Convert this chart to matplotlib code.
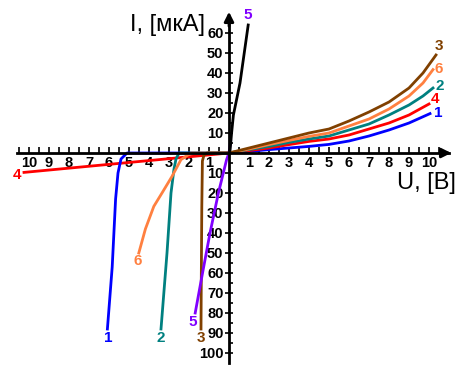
import matplotlib
matplotlib.use("Agg")
import matplotlib.pyplot as plt

plt.rcParams['font.family'] = ['Liberation Sans', 'DejaVu Sans']

# forward branches (U > 0)
u1f = [0, 1, 2, 3, 4, 5, 6, 7, 8, 9, 10.05]
i1f = [0, 0.8, 1.7, 2.5, 3.3, 4.3, 6, 8.5, 11.5, 15, 19.7]
u4f = [0, 1, 2, 3, 4, 5, 6, 7, 8, 9, 10]
i4f = [0, 1.2, 2.5, 4.2, 5.8, 7, 9, 12, 15, 19, 24.5]
u2f = [0, 1, 2, 3, 4, 5, 6, 7, 8, 9, 9.7, 10.2]
i2f = [0, 1.7, 3.3, 5.3, 7, 8.5, 11.5, 14.5, 19, 24, 28.5, 32.5]
u6f = [0, 1, 2, 3, 4, 5, 6, 7, 8, 9, 9.7, 10.2]
i6f = [0, 2, 4.2, 6.3, 8.3, 10, 13.5, 17, 22, 28.5, 35, 41.7]
u3f = [0, 1, 2, 3, 4, 5, 6, 7, 8, 9, 9.7, 10.35]
i3f = [0, 2.5, 5, 7.5, 10, 12, 16, 20.5, 25.5, 32.5, 40, 49]
u5f = [0, 0.05, 0.13, 0.22, 0.55, 0.96]
i5f = [0, 1, 10, 19, 35, 64]

# reverse branches (U < 0)
u1r = [0, -5.1, -5.4, -5.55, -5.67, -5.84, -6.08]
i1r = [0, 0, -3, -10, -23, -57, -88]
u2r = [0, -2.5, -2.65, -2.75, -2.9, -3.1, -3.4]
i2r = [0, 0, -3, -8, -20, -50, -88]
u3r = [0, -1.1, -1.25, -1.33, -1.36, -1.39, -1.4]
i3r = [0, 0, -1, -4, -27, -70, -88]
u4r = [0, -10.25]
i4r = [0, -9.7]
u5r = [0.08, 0, -0.12, -0.53, -0.95, -1.36, -1.69]
i5r = [6, 0, -3.3, -20, -40, -62, -80]
u6r = [0, -1.9, -2.4, -2.85, -3.35, -3.76, -4.18, -4.51]
i6r = [0, 0, -3.3, -11.7, -20, -26.7, -38, -50]

c1, c2, c3, c4, c5, c6 = '#0000ff', '#008080', '#804000', '#ff0000', '#8000ff', '#ff8040'

fig = plt.figure(figsize=(4.66, 3.82), dpi=100)
ax = fig.add_axes([0, 0, 1, 1])
ax.set_xlim(-11.45, 11.85)
ax.set_ylim(-114.5, 76.5)

lw = 2
ax.plot(u4r, i4r, color=c4, lw=lw)
ax.plot(u1r, i1r, color=c1, lw=lw)
ax.plot(u2r, i2r, color=c2, lw=lw)
ax.plot(u6r, i6r, color=c6, lw=lw)
ax.plot(u3r, i3r, color=c3, lw=lw)
ax.plot(u5r, i5r, color=c5, lw=lw)
ax.plot(u5f, i5f, color='black', lw=lw)
ax.plot(u1f, i1f, color=c1, lw=lw)
ax.plot(u4f, i4f, color=c4, lw=lw)
ax.plot(u2f, i2f, color=c2, lw=lw)
ax.plot(u6f, i6f, color=c6, lw=lw)
ax.plot(u3f, i3f, color=c3, lw=lw)

# curve numbers
lab = dict(fontsize=11, fontweight='bold', ha='center', va='center')
for u, i, t, c in [(10.5, 53.3, '3', c3), (10.5, 42, '6', c6), (10.55, 33.7, '2', c2),
                   (10.28, 27, '4', c4), (10.46, 20, '1', c1), (0.93, 69, '5', c5),
                   (-10.6, -10.8, '4', c4), (-6.05, -92.5, '1', c1), (-3.43, -92.5, '2', c2),
                   (-1.39, -92.5, '3', c3), (-1.81, -84.7, '5', c5), (-4.59, -54, '6', c6)]:
    ax.text(u, i, t, color=c, **lab)

# axes through origin
for s in ['top', 'right']:
    ax.spines[s].set_visible(False)
ax.spines['left'].set_position(('data', 0))
ax.spines['bottom'].set_position(('data', 0))
ax.spines['left'].set_bounds(-105, 68)
ax.spines['bottom'].set_bounds(-10.6, 11)
ax.spines['left'].set_linewidth(2)
ax.spines['bottom'].set_linewidth(2)
ax.annotate('', xy=(0, 72), xytext=(0, 62),
            arrowprops=dict(arrowstyle='-|>', color='black', lw=2, mutation_scale=14))
ax.annotate('', xy=(11.25, 0), xytext=(10.5, 0),
            arrowprops=dict(arrowstyle='-|>', color='black', lw=2, mutation_scale=14))

xt = [v for v in range(-10, 11) if v != 0]
ax.set_xticks(xt)
ax.set_xticklabels([str(abs(v)) for v in xt], fontweight='bold', fontsize=10.5)
ax.set_xticks([v + 0.5 for v in range(-11, 11) if -10.5 <= v + 0.5 <= 10.5], minor=True)
ax.tick_params(axis='x', which='both', direction='in', length=4, width=1.2, pad=2)

yt = [v for v in range(-100, 61, 10) if v != 0]
ax.set_yticks(yt)
ax.set_yticklabels([str(abs(v)) for v in yt], fontweight='bold', fontsize=10.5)
ax.set_yticks([v for v in range(-95, 66, 10)], minor=True)
ax.tick_params(axis='y', which='major', direction='inout', length=6, width=1.2, pad=1)
ax.tick_params(axis='y', which='minor', direction='in', length=3, width=1.2)

ax.text(-4.95, 64, 'I, [мкА]', fontsize=17, ha='left', va='center')
ax.text(8.4, -15, 'U, [В]', fontsize=17, ha='left', va='center')

fig.savefig('out.png', dpi=100)
